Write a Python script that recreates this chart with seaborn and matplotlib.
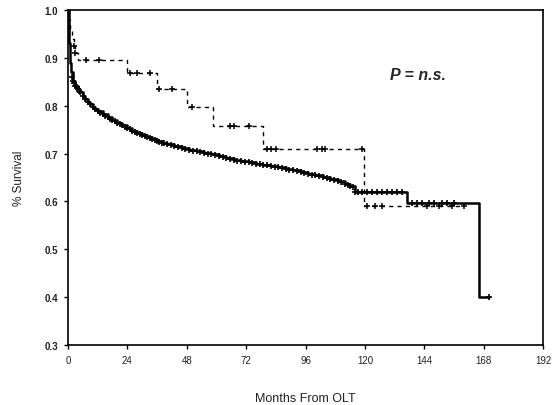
import matplotlib
matplotlib.use("Agg")
import matplotlib.pyplot as plt
import seaborn as sns
import pandas as pd

sns.set_theme(style="white")
plt.rcParams['font.family'] = ['Liberation Sans', 'DejaVu Sans']

# Solid curve (step times, survival)
solid_t = [0, 0.3, 0.6, 0.9, 1.3, 2, 3, 4, 5, 6, 7, 8, 9, 10, 11, 12, 14, 16, 18, 20,
           22, 24, 26, 28, 30, 32, 34, 36, 38, 40, 43, 46, 49, 52, 55, 58, 61, 64, 67,
           70, 73, 76, 79, 82, 85, 88, 91, 94, 97, 100, 103, 106, 109, 112, 114, 116,
           137, 166, 170]
solid_s = [1.0, 0.97, 0.93, 0.89, 0.87, 0.852, 0.842, 0.835, 0.828, 0.82, 0.814, 0.808,
           0.803, 0.798, 0.793, 0.789, 0.782, 0.776, 0.77, 0.764, 0.759, 0.754, 0.748,
           0.743, 0.738, 0.734, 0.73, 0.727, 0.723, 0.72, 0.716, 0.712, 0.708, 0.705,
           0.702, 0.698, 0.694, 0.691, 0.687, 0.684, 0.682, 0.679, 0.677, 0.674, 0.671,
           0.668, 0.665, 0.661, 0.658, 0.655, 0.651, 0.647, 0.642, 0.637, 0.632, 0.62,
           0.596, 0.40, 0.40]
# extra censor marks on the solid curve
solid_cens_t = [1.5, 2.5, 3.5, 4.5, 13, 15, 17, 19, 21, 23, 25, 27, 29, 31, 33, 35, 37,
                39, 41.5, 44.5, 47.5, 50.5, 53.5, 56.5, 59.5, 62.5, 65.5, 68.5, 71.5,
                74.5, 77.5, 80.5, 83.5, 86.5, 89.5, 92.5, 95.5, 98.5, 101.5, 104.5,
                107.5, 110.5, 113, 115,
                117, 119, 121, 123, 125, 127, 129, 131, 133, 135, 139, 141, 143, 146,
                148, 151, 153, 156, 170]
solid_cens_s = [0.86, 0.847, 0.838, 0.831, 0.785, 0.779, 0.773, 0.767, 0.761, 0.756,
                0.751, 0.745, 0.740, 0.736, 0.732, 0.728, 0.725, 0.721, 0.718, 0.714,
                0.710, 0.706, 0.703, 0.700, 0.696, 0.692, 0.689, 0.685, 0.683, 0.680,
                0.678, 0.675, 0.672, 0.669, 0.666, 0.663, 0.660, 0.656, 0.653, 0.649,
                0.644, 0.640, 0.635, 0.630,
                0.62, 0.62, 0.62, 0.62, 0.62, 0.62, 0.62, 0.62, 0.62, 0.62,
                0.596, 0.596, 0.596, 0.596, 0.596, 0.596, 0.596, 0.596, 0.40]

# Dashed curve
dash_t = [0, 0.5, 1, 1.5, 2.5, 3, 4, 24, 36, 48, 58.5, 79, 119.5, 160]
dash_s = [1.0, 0.98, 0.96, 0.94, 0.925, 0.91, 0.896, 0.869, 0.835, 0.798, 0.758,
          0.709, 0.59, 0.59]
dash_cens_t = [2.5, 3, 7.3, 12.5, 25, 28, 33, 37, 42, 50, 65.5, 67, 73, 80.4, 82, 84,
               100.6, 102.7, 104, 119, 121, 124, 127, 145, 150, 155, 160]
dash_cens_s = [0.925, 0.91, 0.896, 0.896, 0.869, 0.869, 0.869, 0.835, 0.835, 0.798,
               0.758, 0.758, 0.758, 0.709, 0.709, 0.709, 0.709, 0.709, 0.709, 0.709,
               0.59, 0.59, 0.59, 0.59, 0.59, 0.59, 0.59]

x_ticks = [0, 24, 48, 72, 96, 120, 144, 168, 192]
y_ticks = [0.3, 0.4, 0.5, 0.6, 0.7, 0.8, 0.9, 1.0]

fig = plt.figure(figsize=(5.52, 4.06), dpi=100)
ax = fig.add_axes([0.123, 0.148, 0.861, 0.825])

solid_df = pd.DataFrame({"t": solid_t, "s": solid_s})
dash_df = pd.DataFrame({"t": dash_t, "s": dash_s})

sns.lineplot(data=dash_df, x="t", y="s", ax=ax, color="black", linewidth=1.0,
             estimator=None, sort=False, drawstyle="steps-post", dashes=False,
             linestyle=(0, (3, 3)))
sns.lineplot(data=solid_df, x="t", y="s", ax=ax, color="black", linewidth=1.8,
             estimator=None, sort=False, drawstyle="steps-post")

# censor marks
sns.scatterplot(x=solid_t[5:-3], y=solid_s[5:-3], ax=ax, marker="+", s=20,
                color="black", linewidth=1.2)
sns.scatterplot(x=solid_cens_t, y=solid_cens_s, ax=ax, marker="+", s=20,
                color="black", linewidth=1.2)
sns.scatterplot(x=dash_cens_t, y=dash_cens_s, ax=ax, marker="+", s=24,
                color="black", linewidth=1.1)

ax.set_xlim(0, 192)
ax.set_ylim(0.3, 1.0)
ax.set_xticks(x_ticks)
ax.set_yticks(y_ticks)
ax.set_xticklabels([str(v) for v in x_ticks], fontsize=7)
ax.set_yticklabels([f"{v:.1f}" for v in y_ticks], fontsize=7, fontweight="bold")
ax.tick_params(axis="both", direction="out", length=3, width=1, color="black",
               left=True, bottom=True, pad=4, labelcolor="#222222")
for sp in ax.spines.values():
    sp.set_color("black")
    sp.set_linewidth(1.2)

ax.set_xlabel("Months From OLT", fontsize=9, labelpad=20, color="#222222")
ax.set_ylabel("% Survival", fontsize=8.5, labelpad=14, color="#222222")

ax.text(141.5, 0.865, "P = n.s.", fontsize=11.5, fontweight="bold", fontstyle="italic",
        ha="center", va="center")

fig.savefig("out.png", dpi=100)
